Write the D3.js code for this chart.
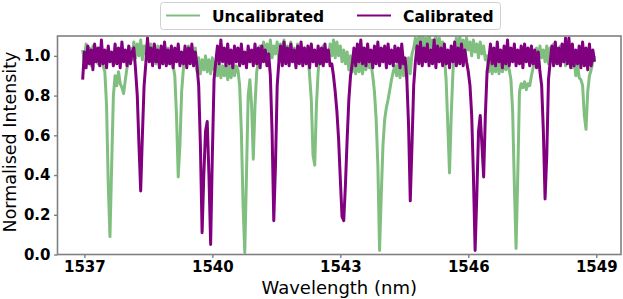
<!DOCTYPE html>
<html>
<head>
  <script src="https://d3js.org/d3.v7.min.js"></script>
  <style>
  body { margin: 0; background: white; }
  svg { font-family: "DejaVu Sans", sans-serif; }
  </style>
</head>
<body>
<script type="text/javascript">
// spectrum sampling grid (nm)
var wlStart = 1536.96,
    wlStep = 0.04;

var xTicks = [1537, 1540, 1543, 1546, 1549];
var yTicks = [0, 0.2, 0.4, 0.6, 0.8, 1.0];
var seriesNames = ['Uncalibrated', 'Calibrated'];

// normalised intensity, one value per grid step
var uncalibrated = [
  1.03, 0.97, 1.06, 0.96, 1.04, 0.95, 1.05, 0.97, 1.02, 0.96,
  1.04, 0.97, 0.95, 0.92, 0.75, 0.35, 0.09, 0.45, 0.80, 0.90,
  0.85, 0.92, 0.86, 0.84, 0.81, 0.88, 0.94, 0.97, 1.04, 0.98,
  1.07, 0.99, 1.06, 1.00, 1.08, 0.98, 1.05, 1.01, 1.07, 0.99,
  1.06, 0.98, 1.04, 0.96, 1.05, 0.97, 1.03, 0.96, 1.05, 0.97,
  1.04, 0.96, 1.03, 0.95, 0.90, 0.70, 0.39, 0.55, 0.82, 0.93,
  1.03, 0.96, 1.05, 0.97, 1.02, 0.95, 1.04, 0.92, 0.99, 0.91,
  0.98, 0.93, 1.00, 0.92, 0.98, 0.91, 0.99, 0.93, 0.97, 0.90,
  0.96, 0.89, 0.95, 0.90, 0.96, 0.88, 0.95, 0.89, 0.96, 0.90,
  0.95, 0.93, 0.85, 0.62, 0.25, 0.01, 0.40, 0.80, 0.88, 0.75,
  0.48, 0.75, 0.92, 0.97, 1.05, 0.99, 1.07, 1.00, 1.06, 0.98,
  1.08, 0.99, 1.05, 1.01, 1.07, 0.98, 1.06, 1.00, 1.08, 0.99,
  1.05, 0.98, 1.07, 1.00, 1.04, 0.97, 1.06, 0.99, 1.05, 0.98,
  1.04, 0.97, 1.02, 0.90, 0.78, 0.50, 0.45, 0.75, 0.92, 1.02,
  0.96, 1.05, 0.97, 1.03, 0.98, 1.06, 1.00, 1.08, 0.99, 1.07,
  1.00, 1.05, 0.97, 1.03, 0.96, 1.02, 0.93, 1.00, 0.92, 0.99,
  0.91, 0.98, 0.92, 1.00, 0.91, 0.97, 0.93, 0.99, 0.94, 0.96,
  0.90, 0.82, 0.68, 0.45, 0.02, 0.30, 0.55, 0.68, 0.74, 0.78,
  0.83, 0.88, 0.92, 0.95, 0.90, 0.98, 0.89, 1.00, 0.90, 0.97,
  0.88, 0.99, 0.91, 1.01, 1.04, 1.09, 1.03, 1.10, 1.04, 1.11,
  1.03, 1.09, 1.02, 1.11, 1.04, 1.08, 1.03, 1.10, 1.02, 1.09,
  1.04, 1.07, 1.00, 0.88, 0.65, 0.41, 0.70, 0.92, 1.03, 1.09,
  1.02, 1.10, 1.04, 1.08, 1.01, 1.09, 1.03, 1.07, 1.00, 1.08,
  1.02, 1.06, 0.99, 1.07, 1.01, 1.05, 0.98, 1.00, 0.92, 0.99,
  0.91, 0.98, 0.92, 1.00, 0.91, 0.97, 0.92, 0.99, 0.93, 0.96,
  0.93, 0.88, 0.72, 0.35, 0.03, 0.40, 0.82, 0.86, 0.84, 0.87,
  0.83, 0.86, 0.85, 0.90, 0.94, 0.98, 1.04, 0.97, 1.05, 0.99,
  1.03, 0.97, 1.05, 0.96, 1.04, 0.98, 1.06, 0.97, 1.03, 0.96,
  1.05, 0.97, 1.04, 0.95, 1.03, 0.96, 1.02, 0.94, 0.99, 0.90,
  0.96, 0.89, 0.88, 0.85, 0.70, 0.63, 0.82, 0.90, 0.93, 0.97,
  1.00
];

var calibrated = [
  0.88, 1.02, 0.94, 1.05, 0.96, 1.03, 0.93, 1.06, 0.97, 1.04,
  0.95, 1.08, 0.96, 1.03, 0.94, 1.05, 0.97, 1.02, 0.95, 1.06,
  0.96, 1.04, 0.94, 1.07, 0.97, 1.03, 0.95, 1.05, 0.96, 1.02,
  1.04, 0.93, 0.80, 0.55, 0.32, 0.60, 0.85, 0.96, 1.09, 0.97,
  1.04, 0.95, 1.06, 0.97, 1.03, 0.94, 1.05, 0.96, 1.07, 0.95,
  1.03, 0.96, 1.05, 0.94, 1.04, 0.97, 1.06, 0.95, 1.02, 0.96,
  1.05, 0.94, 1.04, 0.96, 1.06, 0.95, 1.02, 0.95, 0.85, 0.55,
  0.11, 0.40, 0.62, 0.67, 0.40, 0.05, 0.50, 0.88, 0.97, 1.05,
  0.96, 1.08, 0.97, 1.04, 0.95, 1.06, 0.96, 1.03, 0.94, 1.05,
  0.97, 1.04, 0.95, 1.06, 0.96, 1.02, 0.94, 1.05, 0.97, 1.03,
  0.95, 1.06, 0.96, 1.04, 0.94, 1.05, 0.97, 1.03, 0.95, 1.01,
  0.90, 0.62, 0.17, 0.45, 0.85, 0.97, 1.05, 0.95, 1.07, 0.96,
  1.04, 0.95, 1.06, 0.97, 1.03, 0.94, 1.05, 0.96, 1.07, 0.95,
  1.04, 0.96, 1.05, 0.94, 1.06, 0.97, 1.03, 0.95, 1.05, 0.96,
  1.04, 0.95, 1.06, 0.97, 1.03, 0.95, 0.96, 0.90, 0.82, 0.72,
  0.58, 0.38, 0.19, 0.17, 0.35, 0.58, 0.78, 0.90, 0.96, 1.04,
  0.95, 1.06, 0.97, 1.08, 0.96, 1.04, 0.95, 1.06, 0.97, 1.03,
  0.94, 1.05, 0.96, 1.07, 0.95, 1.04, 0.97, 1.05, 0.94, 1.06,
  0.96, 1.03, 0.95, 1.05, 0.97, 1.04, 0.94, 1.06, 0.96, 0.99,
  0.88, 0.65, 0.27, 0.55, 0.85, 0.97, 1.05, 0.96, 1.07, 0.95,
  1.04, 0.97, 1.06, 0.95, 1.03, 0.96, 1.08, 0.94, 1.05, 0.97,
  1.04, 0.95, 1.06, 0.96, 1.03, 0.94, 1.05, 0.97, 1.07, 0.95,
  1.04, 0.96, 1.06, 0.95, 1.03, 0.97, 0.92, 0.85, 0.70, 0.40,
  0.02, 0.30, 0.62, 0.70, 0.55, 0.39, 0.70, 0.92, 0.98, 1.06,
  0.96, 1.04, 0.95, 1.07, 0.97, 1.03, 0.94, 1.05, 0.96, 1.08,
  0.95, 1.04, 0.97, 1.06, 0.95, 1.03, 0.96, 1.05, 0.94, 1.06,
  0.97, 1.04, 0.95, 1.05, 0.96, 1.03, 0.94, 1.02, 0.92, 0.85,
  0.62, 0.28, 0.50, 0.88, 0.97, 1.05, 0.95, 1.07, 0.96, 1.04,
  0.95, 1.06, 0.97, 1.09, 0.96, 1.09, 0.94, 1.06, 0.95, 1.03,
  0.96, 1.05, 0.94, 1.07, 0.95, 1.04, 0.93, 1.06, 0.95, 1.03,
  0.97
];

var colour_uncal = '#80bf80',
    colour_cal = '#800080';

var width = 623, height = 299,
    plotLeft = 57.5, plotRight = 621, plotTop = 36, plotBottom = 254.5;

var svg = d3.select('body').append('svg')
    .attr('width', width)
    .attr('height', height);

var x_scale = d3.scaleLinear().domain([1536.37, 1549.58]).range([plotLeft, plotRight]);
var y_scale = d3.scaleLinear().domain([0, 1.1]).range([plotBottom, plotTop]);

svg.append('clipPath').attr('id', 'plotclip')
  .append('rect')
    .attr('x', plotLeft).attr('y', plotTop)
    .attr('width', plotRight - plotLeft).attr('height', plotBottom - plotTop);

var line = d3.line()
    .x(function(d, i) { return x_scale(wlStart + i * wlStep); })
    .y(function(d) { return y_scale(d); });

var plot = svg.append('g').attr('clip-path', 'url(#plotclip)');

plot.append('path')
    .datum(uncalibrated)
    .attr('d', line)
    .attr('fill', 'none')
    .attr('stroke', colour_uncal)
    .attr('stroke-width', 3)
    .attr('stroke-linejoin', 'round');

plot.append('path')
    .datum(calibrated)
    .attr('d', line)
    .attr('fill', 'none')
    .attr('stroke', colour_cal)
    .attr('stroke-width', 3)
    .attr('stroke-linejoin', 'round');

// axes
var x_axis = d3.axisBottom(x_scale).tickValues(xTicks).tickSize(3.5).tickPadding(3.5)
    .tickFormat(d3.format('d'));
var y_axis = d3.axisLeft(y_scale).tickValues(yTicks).tickSize(3.5).tickPadding(3.5)
    .tickFormat(d3.format('.1f'));

function styleAxis(g) {
  g.select('.domain').remove();
  g.attr('font-size', null).attr('font-family', null);
  g.selectAll('.tick line').attr('stroke', '#808080').attr('stroke-width', 1.4);
  g.selectAll('.tick text')
    .attr('fill', 'black')
    .style('font-family', '"DejaVu Sans", sans-serif')
    .style('font-size', '15px')
    .style('font-weight', 'bold');
}

svg.append('g')
    .attr('transform', 'translate(0,' + plotBottom + ')')
    .call(x_axis)
    .call(styleAxis);

svg.append('g')
    .attr('transform', 'translate(' + plotLeft + ',0)')
    .call(y_axis)
    .call(styleAxis);

// frame
svg.append('rect')
    .attr('x', plotLeft).attr('y', plotTop)
    .attr('width', plotRight - plotLeft).attr('height', plotBottom - plotTop)
    .attr('fill', 'none')
    .attr('stroke', '#808080')
    .attr('stroke-width', 1.6);

// axis labels
svg.append('text')
    .attr('x', (plotLeft + plotRight) / 2)
    .attr('y', 294)
    .attr('text-anchor', 'middle')
    .style('font-size', '18px')
    .text('Wavelength (nm)');

svg.append('text')
    .attr('transform', 'translate(16,142) rotate(-90)')
    .attr('text-anchor', 'middle')
    .style('font-size', '17.5px')
    .text('Normalised Intensity');

// legend
var legend = svg.append('g');
legend.append('rect')
    .attr('x', 160.5).attr('y', 2.5)
    .attr('width', 340).attr('height', 27)
    .attr('rx', 3)
    .attr('fill', 'white')
    .attr('stroke', '#d0d0d0');

var legendItems = [
  {name: seriesNames[0], colour: colour_uncal, x: 166},
  {name: seriesNames[1], colour: colour_cal, x: 357}
];

legendItems.forEach(function(d) {
  legend.append('line')
      .attr('x1', d.x).attr('x2', d.x + 34)
      .attr('y1', 15.5).attr('y2', 15.5)
      .attr('stroke', d.colour)
      .attr('stroke-width', 2);
  legend.append('text')
      .attr('x', d.x + 46)
      .attr('y', 21.5)
      .style('font-size', '15.5px')
      .style('font-weight', 'bold')
      .text(d.name);
});
</script>
</body>
</html>
